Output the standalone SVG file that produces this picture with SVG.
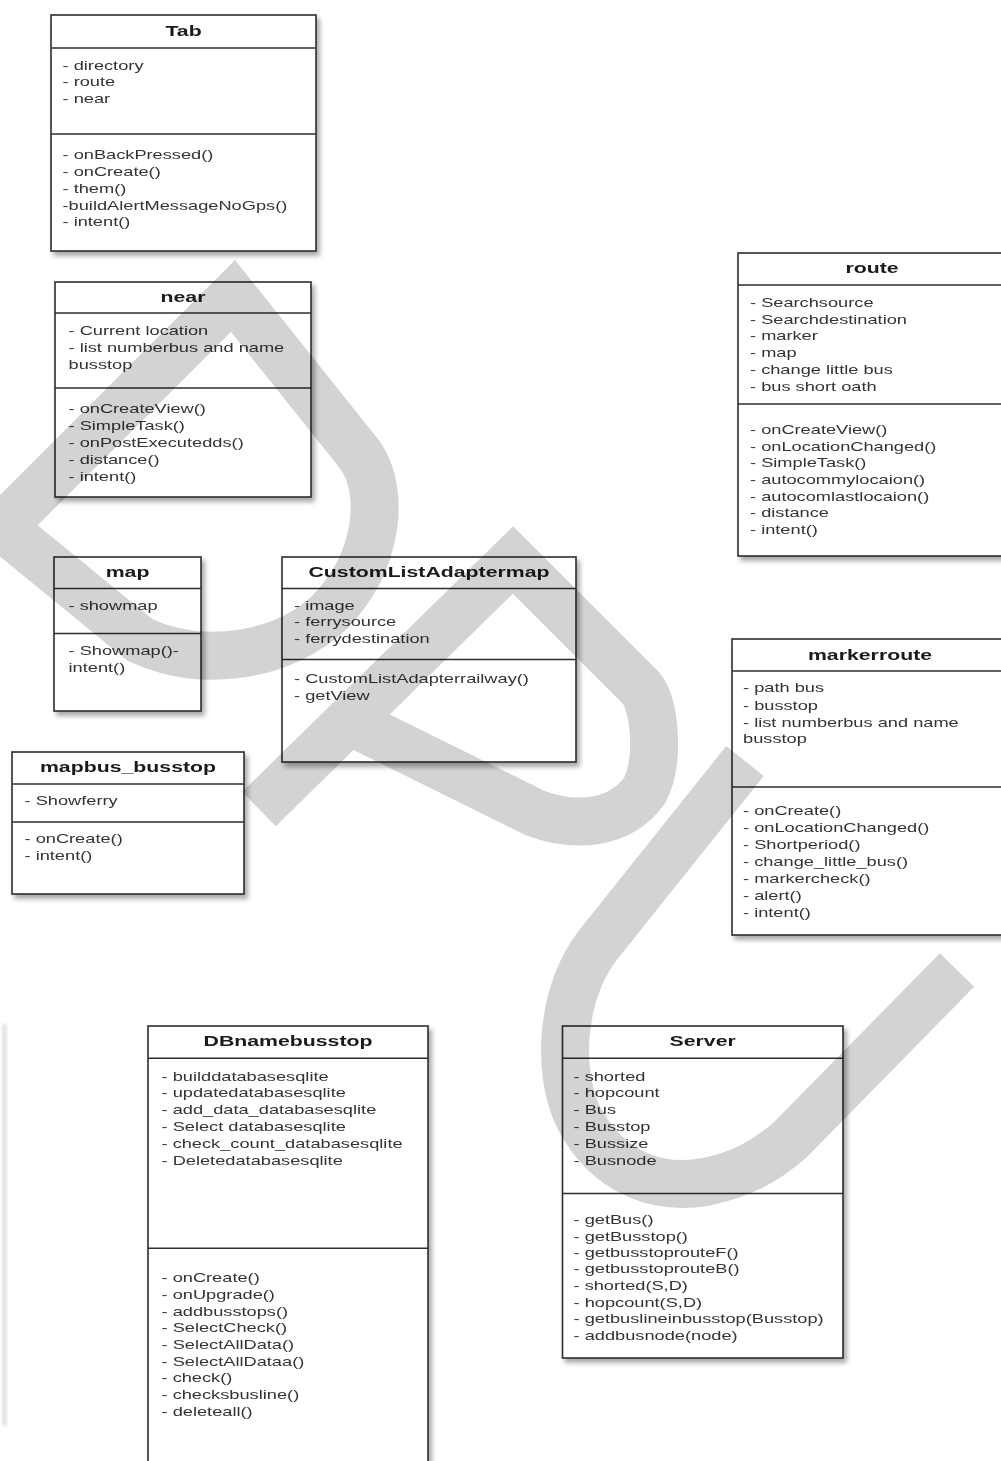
<svg xmlns="http://www.w3.org/2000/svg" width="1001" height="1461" viewBox="0 0 1001 1461">
<defs>
<filter id="sh" x="-10%" y="-10%" width="130%" height="130%">
<feDropShadow dx="3" dy="4" stdDeviation="2.5" flood-color="#000" flood-opacity="0.35"/>
</filter>
<filter id="blur"><feGaussianBlur stdDeviation="1.5"/></filter>
<style>
.box{fill:#fff;stroke:#2e2e2e;stroke-width:1.6;filter:url(#sh)}
.sep{stroke:#2e2e2e;stroke-width:1.6}
.t{font-family:"Liberation Sans",Arial,sans-serif;font-size:12px;fill:#333}
.h{font-family:"Liberation Sans",Arial,sans-serif;font-size:14px;font-weight:bold;fill:#1a1a1a;text-anchor:middle}
.wm{fill:none;stroke:#d3d3d3;stroke-width:48;stroke-linejoin:miter;stroke-miterlimit:10;stroke-linecap:butt}
</style>
</defs>
<rect width="1001" height="1461" fill="#fff"/>
<rect x="2" y="1024" width="5" height="402" fill="#e4e4e4" filter="url(#blur)"/>

<g id="connectors"></g>

<g id="tab">
<rect class="box" x="51" y="15" width="265" height="236"/>
<line class="sep" x1="51" y1="48" x2="316" y2="48"/>
<line class="sep" x1="51" y1="134" x2="316" y2="134"/>
<g transform="translate(183.5,0) scale(1.52,1)"><text class="h" x="0" y="36">Tab</text></g>
<g transform="translate(62.5,0) scale(1.52,1)">
<text class="t" y="69.7">- directory</text>
<text class="t" y="85.7">- route</text>
<text class="t" y="102.7">- near</text>
<text class="t" y="159">- onBackPressed()</text>
<text class="t" y="175.7">- onCreate()</text>
<text class="t" y="193">- them()</text>
<text class="t" y="209.7">-buildAlertMessageNoGps()</text>
<text class="t" y="226">- intent()</text>
</g>
</g>

<g id="near">
<rect class="box" x="55" y="282" width="256" height="215"/>
<line class="sep" x1="55" y1="313" x2="311" y2="313"/>
<line class="sep" x1="55" y1="388" x2="311" y2="388"/>
<g transform="translate(183,0) scale(1.52,1)"><text class="h" x="0" y="302.5">near</text></g>
<g transform="translate(68.5,0) scale(1.52,1)">
<text class="t" y="335">- Current location</text>
<text class="t" y="352.3">- list numberbus and name</text>
<text class="t" y="369">busstop</text>
<text class="t" y="413.3">- onCreateView()</text>
<text class="t" y="430">- SimpleTask()</text>
<text class="t" y="447.3">- onPostExecutedds()</text>
<text class="t" y="464">- distance()</text>
<text class="t" y="480.7">- intent()</text>
</g>
</g>

<g id="map">
<rect class="box" x="54" y="557" width="147" height="154"/>
<line class="sep" x1="54" y1="588.5" x2="201" y2="588.5"/>
<line class="sep" x1="54" y1="633.5" x2="201" y2="633.5"/>
<g transform="translate(127.5,0) scale(1.52,1)"><text class="h" x="0" y="577">map</text></g>
<g transform="translate(68.5,0) scale(1.52,1)">
<text class="t" y="609.7">- showmap</text>
<text class="t" y="655">- Showmap()-</text>
<text class="t" y="671.7">intent()</text>
</g>
</g>

<g id="customlistadaptermap">
<rect class="box" x="282" y="557" width="294" height="205"/>
<line class="sep" x1="282" y1="588.5" x2="576" y2="588.5"/>
<line class="sep" x1="282" y1="659.5" x2="576" y2="659.5"/>
<g transform="translate(429,0) scale(1.52,1)"><text class="h" x="0" y="577">CustomListAdaptermap</text></g>
<g transform="translate(294,0) scale(1.52,1)">
<text class="t" y="609.7">- image</text>
<text class="t" y="626.3">- ferrysource</text>
<text class="t" y="643">- ferrydestination</text>
<text class="t" y="683">- CustomListAdapterrailway()</text>
<text class="t" y="699.7">- getView</text>
</g>
</g>

<g id="mapbus_busstop">
<rect class="box" x="12" y="752" width="232" height="142"/>
<line class="sep" x1="12" y1="784" x2="244" y2="784"/>
<line class="sep" x1="12" y1="822" x2="244" y2="822"/>
<g transform="translate(128,0) scale(1.52,1)"><text class="h" x="0" y="772">mapbus_busstop</text></g>
<g transform="translate(24.5,0) scale(1.52,1)">
<text class="t" y="805.5">- Showferry</text>
<text class="t" y="843.3">- onCreate()</text>
<text class="t" y="860">- intent()</text>
</g>
</g>

<g id="route">
<rect class="box" x="738" y="253" width="270" height="303"/>
<line class="sep" x1="738" y1="285" x2="1008" y2="285"/>
<line class="sep" x1="738" y1="404" x2="1008" y2="404"/>
<g transform="translate(872,0) scale(1.52,1)"><text class="h" x="0" y="273.5">route</text></g>
<g transform="translate(750,0) scale(1.52,1)">
<text class="t" y="306.7">- Searchsource</text>
<text class="t" y="324">- Searchdestination</text>
<text class="t" y="340">- marker</text>
<text class="t" y="357.3">- map</text>
<text class="t" y="374">- change little bus</text>
<text class="t" y="390.7">- bus short oath</text>
<text class="t" y="434">- onCreateView()</text>
<text class="t" y="450.7">- onLocationChanged()</text>
<text class="t" y="467.3">- SimpleTask()</text>
<text class="t" y="484">- autocommylocaion()</text>
<text class="t" y="500.7">- autocomlastlocaion()</text>
<text class="t" y="517.3">- distance</text>
<text class="t" y="534">- intent()</text>
</g>
</g>

<g id="markerroute">
<rect class="box" x="732" y="639" width="276" height="296"/>
<line class="sep" x1="732" y1="671" x2="1008" y2="671"/>
<line class="sep" x1="732" y1="787" x2="1008" y2="787"/>
<g transform="translate(870,0) scale(1.52,1)"><text class="h" x="0" y="660">markerroute</text></g>
<g transform="translate(743,0) scale(1.52,1)">
<text class="t" y="692.3">- path bus</text>
<text class="t" y="710">- busstop</text>
<text class="t" y="726.7">- list numberbus and name</text>
<text class="t" y="743.3">busstop</text>
<text class="t" y="815">- onCreate()</text>
<text class="t" y="832">- onLocationChanged()</text>
<text class="t" y="849">- Shortperiod()</text>
<text class="t" y="866.3">- change_little_bus()</text>
<text class="t" y="883.3">- markercheck()</text>
<text class="t" y="900">- alert()</text>
<text class="t" y="917">- intent()</text>
</g>
</g>

<g id="dbnamebusstop">
<rect class="box" x="148" y="1026" width="280" height="450"/>
<line class="sep" x1="148" y1="1058.3" x2="428" y2="1058.3"/>
<line class="sep" x1="148" y1="1248.3" x2="428" y2="1248.3"/>
<g transform="translate(288,0) scale(1.52,1)"><text class="h" x="0" y="1046.5">DBnamebusstop</text></g>
<g transform="translate(161.5,0) scale(1.52,1)">
<text class="t" y="1080.7">- builddatabasesqlite</text>
<text class="t" y="1097.3">- updatedatabasesqlite</text>
<text class="t" y="1114">- add_data_databasesqlite</text>
<text class="t" y="1131.3">- Select databasesqlite</text>
<text class="t" y="1148">- check_count_databasesqlite</text>
<text class="t" y="1164.7">- Deletedatabasesqlite</text>
<text class="t" y="1281.7">- onCreate()</text>
<text class="t" y="1299">- onUpgrade()</text>
<text class="t" y="1315.7">- addbusstops()</text>
<text class="t" y="1332.3">- SelectCheck()</text>
<text class="t" y="1349">- SelectAllData()</text>
<text class="t" y="1365.7">- SelectAllDataa()</text>
<text class="t" y="1382.3">- check()</text>
<text class="t" y="1399">- checksbusline()</text>
<text class="t" y="1416.3">- deleteall()</text>
</g>
</g>

<g id="server">
<rect class="box" x="562.5" y="1026" width="280.5" height="332"/>
<line class="sep" x1="562.5" y1="1058.3" x2="843" y2="1058.3"/>
<line class="sep" x1="562.5" y1="1193.5" x2="843" y2="1193.5"/>
<g transform="translate(702.7,0) scale(1.52,1)"><text class="h" x="0" y="1046.5">Server</text></g>
<g transform="translate(573.5,0) scale(1.52,1)">
<text class="t" y="1080.7">- shorted</text>
<text class="t" y="1097.3">- hopcount</text>
<text class="t" y="1114">- Bus</text>
<text class="t" y="1131.3">- Busstop</text>
<text class="t" y="1148">- Bussize</text>
<text class="t" y="1164.7">- Busnode</text>
<text class="t" y="1224">- getBus()</text>
<text class="t" y="1240.7">- getBusstop()</text>
<text class="t" y="1257.3">- getbusstoprouteF()</text>
<text class="t" y="1273.3">- getbusstoprouteB()</text>
<text class="t" y="1290">- shorted(S,D)</text>
<text class="t" y="1306.7">- hopcount(S,D)</text>
<text class="t" y="1323.3">- getbuslineinbusstop(Busstop)</text>
<text class="t" y="1340">- addbusnode(node)</text>
</g>
</g>

<g id="watermark" style="mix-blend-mode:multiply">
<path class="wm" d="M233,296 L360,455 C385,490 380,560 330,612 C285,655 205,670 140,640 L2,527 Z"/>
<path class="wm" d="M259,809 L513,560 L640,687 C655,702 660,760 645,790 C620,825 575,828 535,813 L351,722"/>
<path class="wm" d="M745,761 L598,945 C560,995 556,1075 580,1120 C610,1175 660,1190 705,1182 C740,1175 765,1162 790,1140 L957,970"/>
</g>
</svg>
